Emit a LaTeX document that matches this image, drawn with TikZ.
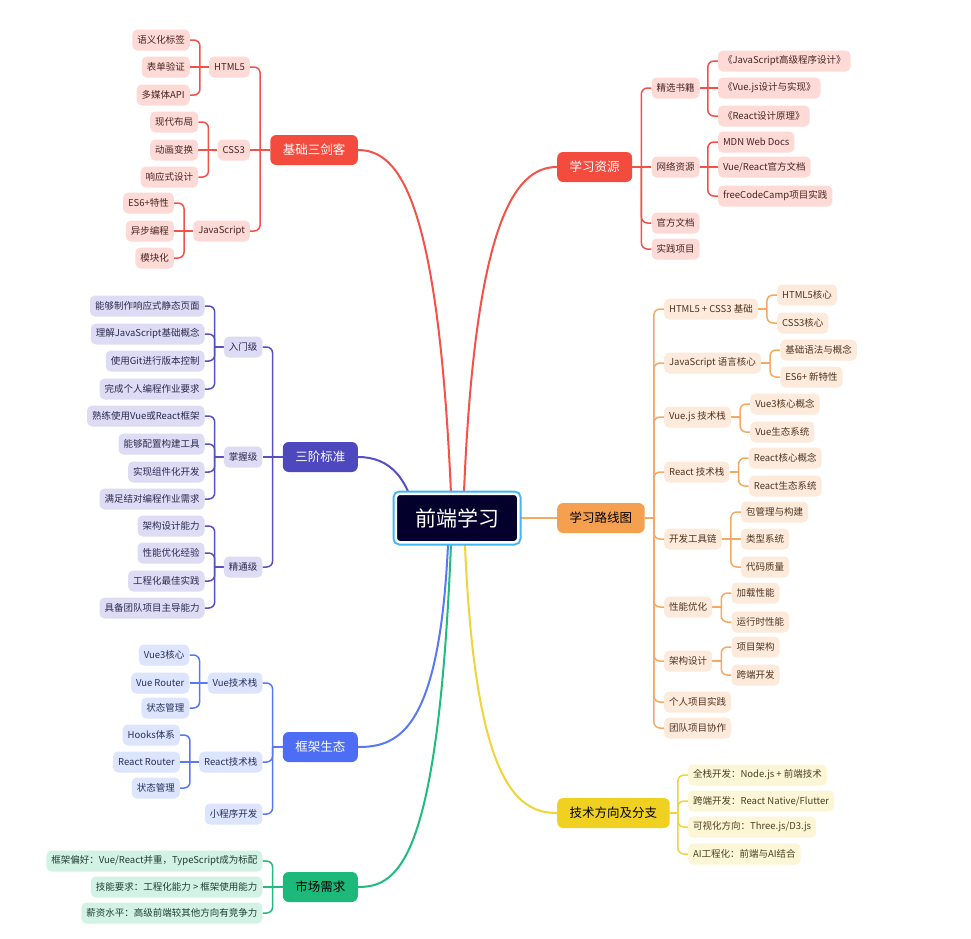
\documentclass[tikz,border=0pt]{standalone}
\usepackage{fontspec}
\setmainfont{Noto Sans CJK SC}
\usetikzlibrary{backgrounds,calc}
\definecolor{RedM}{HTML}{F44B3F}\definecolor{RedL}{HTML}{FDDAD6}\definecolor{RedLn}{HTML}{F45249}\definecolor{RedT}{HTML}{4A2521}
\definecolor{PurM}{HTML}{4E48BF}\definecolor{PurL}{HTML}{DEDCF4}\definecolor{PurLn}{HTML}{5650C4}\definecolor{PurT}{HTML}{2C2950}
\definecolor{OraM}{HTML}{F5A04E}\definecolor{OraL}{HTML}{FDEADB}\definecolor{OraLn}{HTML}{F6A961}\definecolor{OraT}{HTML}{4F3420}
\definecolor{BluM}{HTML}{4D6DF5}\definecolor{BluL}{HTML}{DDE4FD}\definecolor{BluLn}{HTML}{5878F5}\definecolor{BluT}{HTML}{26305A}
\definecolor{YelM}{HTML}{F0D021}\definecolor{YelL}{HTML}{FCF5D6}\definecolor{YelLn}{HTML}{F2D33A}\definecolor{YelT}{HTML}{4A4220}
\definecolor{GrnM}{HTML}{1CB97B}\definecolor{GrnL}{HTML}{D2F2E5}\definecolor{GrnLn}{HTML}{22BB7E}\definecolor{GrnT}{HTML}{1F3F33}
\definecolor{CtrF}{HTML}{03012B}\definecolor{CtrB}{HTML}{42B6F4}
\begin{document}
\begin{tikzpicture}[x=1pt,y=-1pt,
  leaf/.style={rounded corners=5pt, minimum height=21pt, inner xsep=5pt, inner ysep=0pt, font=\fontsize{9.5}{11}\selectfont},
  mbox/.style={rounded corners=6pt, minimum height=30pt, inner xsep=12.5pt, inner ysep=0pt, font=\fontsize{12.5}{15}\selectfont},
  lR/.style={leaf, fill=RedL, text=RedT}, lP/.style={leaf, fill=PurL, text=PurT},
  lO/.style={leaf, fill=OraL, text=OraT}, lB/.style={leaf, fill=BluL, text=BluT},
  lY/.style={leaf, fill=YelL, text=YelT}, lG/.style={leaf, fill=GrnL, text=GrnT},
  mR/.style={mbox, fill=RedM, text=white}, mP/.style={mbox, fill=PurM, text=white},
  mO/.style={mbox, fill=OraM, text=black}, mB/.style={mbox, fill=BluM, text=white},
  mY/.style={mbox, fill=YelM, text=black}, mG/.style={mbox, fill=GrnM, text=black},
  cR/.style={draw=RedLn, line width=1.5pt, rounded corners=6pt}, cP/.style={draw=PurLn, line width=1.5pt, rounded corners=6pt},
  cO/.style={draw=OraLn, line width=1.5pt, rounded corners=6pt}, cB/.style={draw=BluLn, line width=1.5pt, rounded corners=6pt},
  cY/.style={draw=YelLn, line width=1.5pt, rounded corners=6pt}, cG/.style={draw=GrnLn, line width=1.5pt, rounded corners=6pt},
  bR/.style={draw=RedLn, line width=2pt}, bP/.style={draw=PurLn, line width=2pt}, bO/.style={draw=OraLn, line width=2pt},
  bB/.style={draw=BluLn, line width=2pt}, bY/.style={draw=YelLn, line width=2pt}, bG/.style={draw=GrnLn, line width=2pt},
  ctr/.style={fill=CtrF, text=white, draw=white, line width=2.5pt, rounded corners=4pt, minimum width=122.5pt, minimum height=48.5pt, font=\fontsize{21}{24}\selectfont, preaction={draw=CtrB, line width=6.5pt}},
  L/.style={anchor=east, xshift=-10pt}, Rt/.style={anchor=west, xshift=10pt}
]
\useasboundingbox (0,0) rectangle (971,938);

% center
\node[ctr] (c) at (457,518) {前端学习};

% ===== 基础三剑客 =====
\node[mR, anchor=east] (jc) at (358,150) {基础三剑客};
\coordinate (jcS) at ([xshift=-10pt]jc.west);
\node[lR, L] (h5) at (jcS |- 0,67) {HTML5};
\node[lR, L] (css) at (jcS |- 0,150) {CSS3};
\node[lR, L] (js) at (jcS |- 0,231) {JavaScript};
\coordinate (h5S) at ([xshift=-9pt]h5.west);
\node[lR, L] (h5a) at (h5S |- 0,40) {语义化标签};
\node[lR, L] (h5b) at (h5S |- 0,67) {表单验证};
\node[lR, L] (h5c) at (h5S |- 0,95) {多媒体API};
\coordinate (cssS) at ([xshift=-9pt]css.west);
\node[lR, L] (cssa) at (cssS |- 0,122) {现代布局};
\node[lR, L] (cssb) at (cssS |- 0,150) {动画变换};
\node[lR, L] (cssc) at (cssS |- 0,177) {响应式设计};
\coordinate (jsS) at ([xshift=-9pt]js.west);
\node[lR, L] (jsa) at (jsS |- 0,203) {ES6+特性};
\node[lR, L] (jsb) at (jsS |- 0,231) {异步编程};
\node[lR, L] (jsc) at (jsS |- 0,258) {模块化};

% ===== 学习资源 =====
\node[mR, anchor=west] (zy) at (557,167) {学习资源};
\coordinate (zyS) at ([xshift=9pt]zy.east);
\node[lR, Rt] (sj) at (zyS |- 0,88) {精选书籍};
\node[lR, Rt] (wl) at (zyS |- 0,167) {网络资源};
\node[lR, Rt] (gf) at (zyS |- 0,223) {官方文档};
\node[lR, Rt] (sx) at (zyS |- 0,249) {实践项目};
\coordinate (sjS) at ([xshift=8pt]sj.east);
\node[lR, Rt] (sja) at (sjS |- 0,61) {《JavaScript高级程序设计》};
\node[lR, Rt] (sjb) at (sjS |- 0,88) {《Vue.js设计与实现》};
\node[lR, Rt] (sjc) at (sjS |- 0,116) {《React设计原理》};
\coordinate (wlS) at ([xshift=8pt]wl.east);
\node[lR, Rt] (wla) at (wlS |- 0,142) {MDN Web Docs};
\node[lR, Rt] (wlb) at (wlS |- 0,167) {Vue/React官方文档};
\node[lR, Rt] (wlc) at (wlS |- 0,196) {freeCodeCamp项目实践};

% ===== 三阶标准 =====
\node[mP, anchor=east] (sb) at (358,457) {三阶标准};
\coordinate (sbS) at ([xshift=-10pt]sb.west);
\node[lP, L] (rm) at (sbS |- 0,347) {入门级};
\node[lP, L] (zw) at (sbS |- 0,457) {掌握级};
\node[lP, L] (jt) at (sbS |- 0,567) {精通级};
\coordinate (rmS) at ([xshift=-9pt]rm.west);
\node[lP, L] (rma) at (rmS |- 0,306) {能够制作响应式静态页面};
\node[lP, L] (rmb) at (rmS |- 0,334) {理解JavaScript基础概念};
\node[lP, L] (rmc) at (rmS |- 0,361) {使用Git进行版本控制};
\node[lP, L] (rmd) at (rmS |- 0,389) {完成个人编程作业要求};
\coordinate (zwS) at ([xshift=-9pt]zw.west);
\node[lP, L] (zwa) at (zwS |- 0,416) {熟练使用Vue或React框架};
\node[lP, L] (zwb) at (zwS |- 0,444) {能够配置构建工具};
\node[lP, L] (zwc) at (zwS |- 0,472) {实现组件化开发};
\node[lP, L] (zwd) at (zwS |- 0,499) {满足结对编程作业需求};
\coordinate (jtS) at ([xshift=-9pt]jt.west);
\node[lP, L] (jta) at (jtS |- 0,526) {架构设计能力};
\node[lP, L] (jtb) at (jtS |- 0,553) {性能优化经验};
\node[lP, L] (jtc) at (jtS |- 0,581) {工程化最佳实践};
\node[lP, L] (jtd) at (jtS |- 0,608) {具备团队项目主导能力};

% ===== 学习路线图 =====
\node[mO, anchor=west] (lx) at (557,518) {学习路线图};
\coordinate (lxS) at ([xshift=9pt]lx.east);
\node[lO, Rt] (o1) at (lxS |- 0,309) {HTML5 + CSS3 基础};
\node[lO, Rt] (o2) at (lxS |- 0,363) {JavaScript 语言核心};
\node[lO, Rt] (o3) at (lxS |- 0,417) {Vue.js 技术栈};
\node[lO, Rt] (o4) at (lxS |- 0,472) {React 技术栈};
\node[lO, Rt] (o5) at (lxS |- 0,539) {开发工具链};
\node[lO, Rt] (o6) at (lxS |- 0,607) {性能优化};
\node[lO, Rt] (o7) at (lxS |- 0,661) {架构设计};
\node[lO, Rt] (o8) at (lxS |- 0,702) {个人项目实践};
\node[lO, Rt] (o9) at (lxS |- 0,728) {团队项目协作};
\coordinate (o1S) at ([xshift=9pt]o1.east);
\node[lO, Rt] (o1a) at (o1S |- 0,295) {HTML5核心};
\node[lO, Rt] (o1b) at (o1S |- 0,323) {CSS3核心};
\coordinate (o2S) at ([xshift=9pt]o2.east);
\node[lO, Rt] (o2a) at (o2S |- 0,350) {基础语法与概念};
\node[lO, Rt] (o2b) at (o2S |- 0,377) {ES6+ 新特性};
\coordinate (o3S) at ([xshift=9pt]o3.east);
\node[lO, Rt] (o3a) at (o3S |- 0,404) {Vue3核心概念};
\node[lO, Rt] (o3b) at (o3S |- 0,432) {Vue生态系统};
\coordinate (o4S) at ([xshift=9pt]o4.east);
\node[lO, Rt] (o4a) at (o4S |- 0,458) {React核心概念};
\node[lO, Rt] (o4b) at (o4S |- 0,486) {React生态系统};
\coordinate (o5S) at ([xshift=9pt]o5.east);
\node[lO, Rt] (o5a) at (o5S |- 0,512) {包管理与构建};
\node[lO, Rt] (o5b) at (o5S |- 0,539) {类型系统};
\node[lO, Rt] (o5c) at (o5S |- 0,567) {代码质量};
\coordinate (o6S) at ([xshift=9pt]o6.east);
\node[lO, Rt] (o6a) at (o6S |- 0,593) {加载性能};
\node[lO, Rt] (o6b) at (o6S |- 0,622) {运行时性能};
\coordinate (o7S) at ([xshift=9pt]o7.east);
\node[lO, Rt] (o7a) at (o7S |- 0,647) {项目架构};
\node[lO, Rt] (o7b) at (o7S |- 0,675) {跨端开发};

% ===== 技术方向及分支 =====
\node[mY, anchor=west] (fx) at (557,813) {技术方向及分支};
\coordinate (fxS) at ([xshift=8pt]fx.east);
\node[lY, Rt] (fxa) at (fxS |- 0,775) {全栈开发：Node.js + 前端技术};
\node[lY, Rt] (fxb) at (fxS |- 0,801) {跨端开发：React Native/Flutter};
\node[lY, Rt] (fxc) at (fxS |- 0,827) {可视化方向：Three.js/D3.js};
\node[lY, Rt] (fxd) at (fxS |- 0,854) {AI工程化：前端与AI结合};

% ===== 框架生态 =====
\node[mB, anchor=east] (kj) at (358,747) {框架生态};
\coordinate (kjS) at ([xshift=-10pt]kj.west);
\node[lB, L] (vt) at (kjS |- 0,683) {Vue技术栈};
\node[lB, L] (rt) at (kjS |- 0,762) {React技术栈};
\node[lB, L] (xc) at (kjS |- 0,814) {小程序开发};
\coordinate (vtS) at ([xshift=-8pt]vt.west);
\node[lB, L] (vta) at (vtS |- 0,655) {Vue3核心};
\node[lB, L] (vtb) at (vtS |- 0,683) {Vue Router};
\node[lB, L] (vtc) at (vtS |- 0,708) {状态管理};
\coordinate (rtS) at ([xshift=-9pt]rt.west);
\node[lB, L] (rta) at (rtS |- 0,735) {Hooks体系};
\node[lB, L] (rtb) at (rtS |- 0,762) {React Router};
\node[lB, L] (rtc) at (rtS |- 0,788) {状态管理};

% ===== 市场需求 =====
\node[mG, anchor=east] (sc) at (358,887) {市场需求};
\coordinate (scS) at ([xshift=-10pt]sc.west);
\node[lG, L] (sca) at (scS |- 0,861) {框架偏好：Vue/React并重，TypeScript成为标配};
\node[lG, L] (scb) at (scS |- 0,887) {技能要求：工程化能力 > 框架使用能力};
\node[lG, L] (scc) at (scS |- 0,913) {薪资水平：高级前端较其他方向有竞争力};

\begin{pgfonlayer}{background}
\fill[white] (0,0) rectangle (971,938);
% main curves
\draw[bR] ([xshift=-5pt]c.center) .. controls (440,200) and (400,150) .. (jc.east);
\draw[bR] ([xshift=6pt]c.center) .. controls (473,220) and (515,167) .. (zy.west);
\draw[bP] ([xshift=-41pt]c.center) .. controls (408,478) and (390,457) .. (sb.east);
\draw[bO] (c.east) -- (lx.west);
\draw[bB] ([xshift=-8pt]c.center) .. controls (443,730) and (400,747) .. (kj.east);
\draw[bG] ([xshift=-5pt]c.center) .. controls (440,860) and (400,887) .. (sc.east);
\draw[bY] ([xshift=7pt]c.center) .. controls (472,780) and (515,813) .. (fx.west);
% 基础三剑客
\draw[cR] (jc.west) -- (css.east);
\foreach \n in {h5,js} \draw[cR] (jcS) |- (\n.east);
\draw[cR] (h5.west) -- (h5b.east);
\foreach \n in {h5a,h5c} \draw[cR] (h5S) |- (\n.east);
\draw[cR] (css.west) -- (cssb.east);
\foreach \n in {cssa,cssc} \draw[cR] (cssS) |- (\n.east);
\draw[cR] (js.west) -- (jsb.east);
\foreach \n in {jsa,jsc} \draw[cR] (jsS) |- (\n.east);
% 学习资源
\draw[cR] (zy.east) -- (wl.west);
\foreach \n in {sj,gf,sx} \draw[cR] (zyS) |- (\n.west);
\draw[cR] (sj.east) -- (sjb.west);
\foreach \n in {sja,sjc} \draw[cR] (sjS) |- (\n.west);
\draw[cR] (wl.east) -- (wlb.west);
\foreach \n in {wla,wlc} \draw[cR] (wlS) |- (\n.west);
% 三阶标准
\draw[cP] (sb.west) -- (zw.east);
\foreach \n in {rm,jt} \draw[cP] (sbS) |- (\n.east);
\draw[cP] (rm.west) -- (rmS);
\foreach \n in {rma,rmb,rmc,rmd} \draw[cP] (rmS) |- (\n.east);
\draw[cP] (zw.west) -- (zwS);
\foreach \n in {zwa,zwb,zwc,zwd} \draw[cP] (zwS) |- (\n.east);
\draw[cP] (jt.west) -- (jtS);
\foreach \n in {jta,jtb,jtc,jtd} \draw[cP] (jtS) |- (\n.east);
% 学习路线图
\draw[cO] (lx.east) -- (lxS);
\foreach \n in {o1,o2,o3,o4,o5,o6,o7,o8,o9} \draw[cO] (lxS) |- (\n.west);
\foreach \p in {o1,o2,o3,o4,o6,o7} {
  \draw[cO] (\p.east) -- (\p S);
  \draw[cO] (\p S) |- (\p a.west);
  \draw[cO] (\p S) |- (\p b.west);
}
\draw[cO] (o5.east) -- (o5b.west);
\foreach \n in {o5a,o5c} \draw[cO] (o5S) |- (\n.west);
% 技术方向
\draw[cY] (fx.east) -- (fxS);
\foreach \n in {fxa,fxb,fxc,fxd} \draw[cY] (fxS) |- (\n.west);
% 框架生态
\draw[cB] (kj.west) -- (kjS);
\foreach \n in {vt,rt,xc} \draw[cB] (kjS) |- (\n.east);
\draw[cB] (vt.west) -- (vtb.east);
\foreach \n in {vta,vtc} \draw[cB] (vtS) |- (\n.east);
\draw[cB] (rt.west) -- (rtb.east);
\foreach \n in {rta,rtc} \draw[cB] (rtS) |- (\n.east);
% 市场需求
\draw[cG] (sc.west) -- (scb.east);
\foreach \n in {sca,scc} \draw[cG] (scS) |- (\n.east);
\end{pgfonlayer}
\end{tikzpicture}
\end{document}
